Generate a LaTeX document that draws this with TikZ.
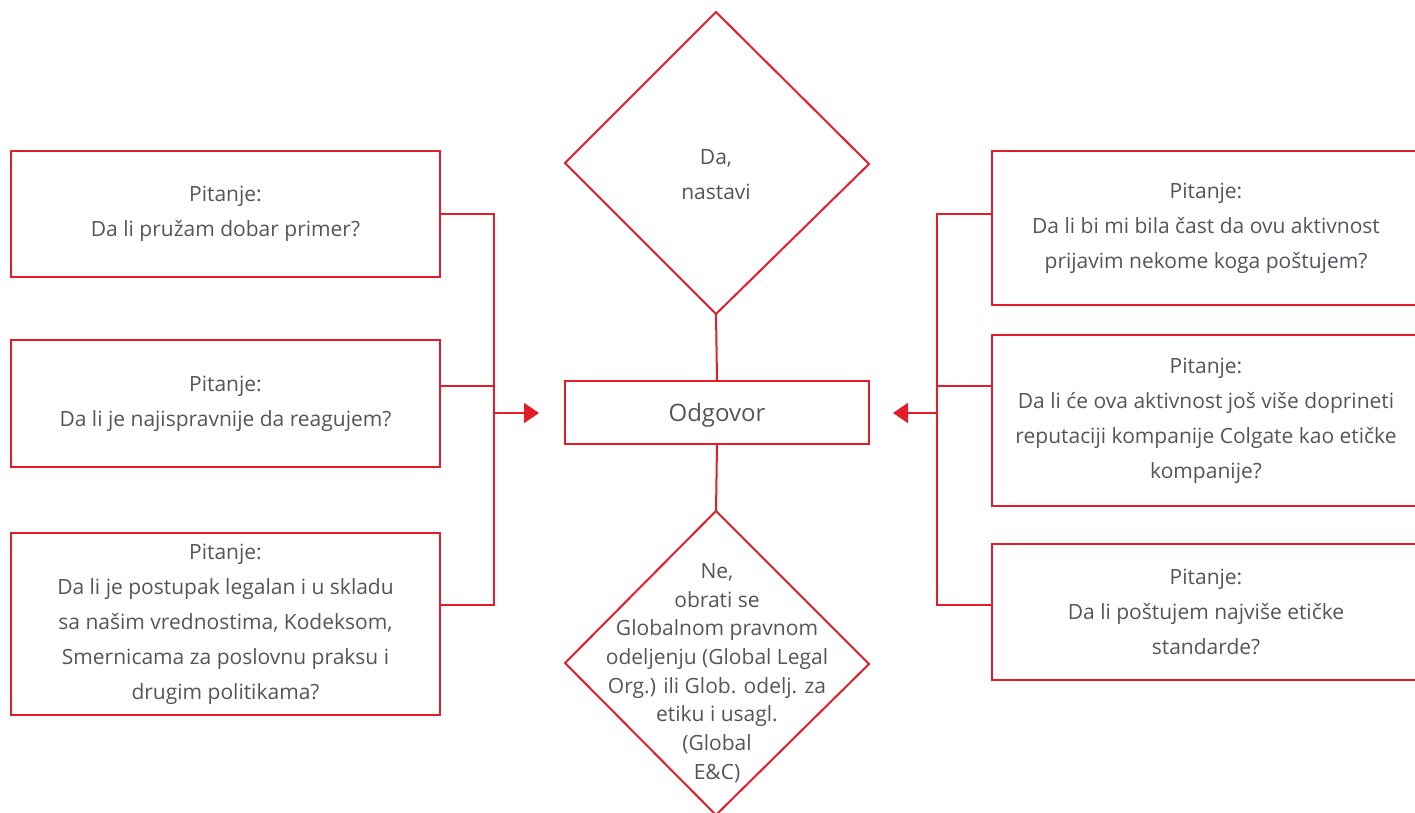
\documentclass[tikz,border=0pt]{standalone}
\usepackage{fontspec}
\setmainfont{Open Sans}
\usetikzlibrary{arrows.meta}
\definecolor{cred}{HTML}{E31E2A}
\definecolor{ctext}{HTML}{51565C}
\begin{document}
\begin{tikzpicture}[x=1pt,y=-1pt,
  every node/.style={font=\fontsize{21}{35}\selectfont, text=ctext, align=center},
  qbox/.style={draw=cred, line width=2pt, minimum width=429pt, inner sep=0pt},
  rbox/.style={draw=cred, line width=2pt, minimum width=428pt, inner sep=0pt},
  link/.style={draw=cred, line width=2pt},
  arr/.style={link, -{Triangle[length=15pt,width=20pt]}}]
\useasboundingbox (0,0) rectangle (1415,813);
% left boxes
\node[qbox, minimum height=126pt] (L1) at (225.5,214) {Pitanje:\\Da li pružam dobar primer?};
\node[qbox, minimum height=127pt] (L2) at (225.5,403.5) {Pitanje:\\Da li je najispravnije da reagujem?};
\node[qbox, minimum height=182pt] (L3) at (225.5,624) {Pitanje:\\Da li je postupak legalan i u skladu\\sa našim vrednostima, Kodeksom,\\Smernicama za poslovnu praksu i\\drugim politikama?};
% right boxes
\node[rbox, minimum height=154pt] (R1) at (1206,228) {Pitanje:\\Da li bi mi bila čast da ovu aktivnost\\prijavim nekome koga poštujem?};
\node[rbox, minimum height=171pt] (R2) at (1206,420.5) {Pitanje:\\Da li će ova aktivnost još više doprineti\\reputaciji kompanije Colgate kao etičke\\kompanije?};
\node[rbox, minimum height=136pt] (R3) at (1206,612) {Pitanje:\\Da li poštujem najviše etičke\\standarde?};
% center
\node[draw=cred, line width=2pt, minimum width=304pt, minimum height=63pt, inner sep=0pt] (O) at (717,412.5) {};
\node[font=\fontsize{24}{30}\selectfont] (Otext) at (717,415) {Odgovor};
\coordinate (Dt) at (716,12);
\coordinate (Dl) at (565,163);
\coordinate (Dr) at (869,164);
\coordinate (Db) at (716,314);
\draw[link, line join=miter] (Dt) -- (Dr) -- (Db) -- (Dl) -- cycle;
\node (Dtext) at (716,175) {Da,\\nastavi};
\coordinate (Nt) at (716,511);
\coordinate (Nl) at (565,663);
\coordinate (Nr) at (869,664);
\coordinate (Nb) at (716,815);
\draw[link, line join=miter] (Nt) -- (Nr) -- (Nb) -- (Nl) -- cycle;
\node[font=\fontsize{21}{28.7}\selectfont] (Ntext) at (717,673) {Ne,\\obrati se\\Globalnom pravnom\\odeljenju (Global Legal\\Org.) ili Glob. odelj. za\\etiku i usagl.\\(Global\\E\&C)};
\draw[link] (Db) -- (O.north);
\draw[link] (O.south) -- (Nt);
% left connector
\coordinate (lj1) at (494,214);
\coordinate (lj2) at (494,386);
\coordinate (lj3) at (494,605);
\coordinate (la) at (494,413);
\coordinate (lt) at (539,413);
\draw[link] (L1.east |- lj1) -- (lj1) -- (lj3) -- (L3.east |- lj3);
\draw[link] (L2.east |- lj2) -- (lj2);
\draw[arr] (la) -- (lt);
% right connector
\coordinate (rj1) at (937,214);
\coordinate (rj2) at (937,386);
\coordinate (rj3) at (937,605);
\coordinate (ra) at (937,413);
\coordinate (rt) at (893,413);
\draw[link] (R1.west |- rj1) -- (rj1) -- (rj3) -- (R3.west |- rj3);
\draw[link] (R2.west |- rj2) -- (rj2);
\draw[arr] (ra) -- (rt);
\end{tikzpicture}
\end{document}
